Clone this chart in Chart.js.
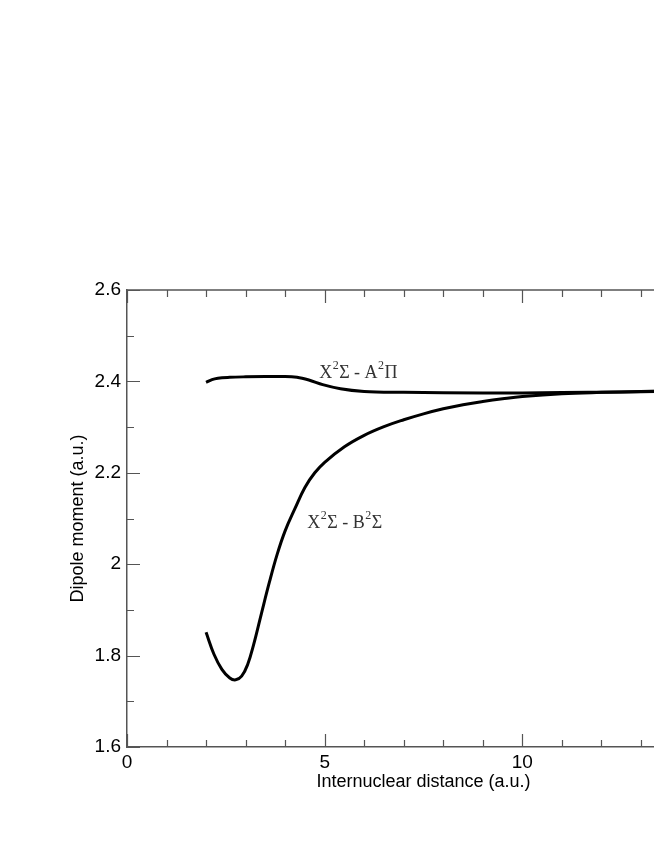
<!DOCTYPE html>
<html>
<head>
<meta charset="utf-8">
<script src="https://cdn.jsdelivr.net/npm/chart.js@4/dist/chart.umd.min.js"></script>
<style>
html,body{margin:0;padding:0;background:#fff;overflow:hidden;width:654px;height:846px;}
#wrap{position:absolute;left:0;top:0;width:760px;height:846px;}
</style>
</head>
<body>
<div id="wrap"><canvas id="c" width="760" height="846"></canvas></div>
<script>
// Data
const xaX = [2.0, 2.15, 2.3, 2.6, 3.0, 3.5, 4.0, 4.3, 4.6, 4.95, 5.4, 6.0, 7.0, 8.0, 9.0, 10.0, 11.0, 12.0, 13.0, 14.0, 15.0];
const xaY = [2.398, 2.404, 2.407, 2.409, 2.410, 2.4105, 2.4105, 2.409, 2.403, 2.393, 2.384, 2.378, 2.376, 2.375, 2.3745, 2.3748, 2.3755, 2.3765, 2.3775, 2.3785, 2.379];
const xbX = [2.0, 2.2, 2.4, 2.6, 2.75, 2.9, 3.05, 3.2, 3.4, 3.6, 3.8, 4.0, 4.25, 4.5, 4.75, 5.0, 5.5, 6.0, 6.5, 7.0, 7.5, 8.0, 8.5, 9.0, 9.5, 10.0, 11.0, 12.0, 13.0, 14.0, 15.0];
const xbY = [1.851, 1.803, 1.770, 1.751, 1.747, 1.755, 1.780, 1.823, 1.892, 1.960, 2.022, 2.073, 2.122, 2.168, 2.200, 2.223, 2.257, 2.282, 2.301, 2.316, 2.329, 2.340, 2.349, 2.356, 2.362, 2.367, 2.373, 2.376, 2.378, 2.380, 2.381];
const xRange = [0, 15];
const yRange = [1.6, 2.6];
const xTitle = 'Internuclear distance (a.u.)';
const yTitle = 'Dipole moment (a.u.)';
const labelA = {x: 4.86, y: 2.407, parts: ['X', '2', 'Σ - A', '2', 'Π']};
const labelB = {x: 4.56, y: 2.080, parts: ['X', '2', 'Σ - B', '2', 'Σ']};

const pts = (xs, ys) => xs.map((x, i) => ({x: x, y: ys[i]}));

const AXIS = '#555';
const innerTicks = {
  id: 'innerTicks',
  afterDraw(chart) {
    const {ctx, chartArea: a} = chart;
    const xs = chart.scales.x, ys = chart.scales.y;
    ctx.save();
    ctx.strokeStyle = AXIS;
    ctx.lineWidth = 1.5;
    ctx.beginPath();
    ctx.moveTo(a.left, a.top); ctx.lineTo(a.right, a.top); ctx.lineTo(a.right, a.bottom);
    ctx.stroke();
    ctx.lineWidth = 1.2;
    xs.ticks.forEach(t => {
      const p = Math.round(xs.getPixelForValue(t.value)) + 0.5;
      const major = Math.abs(t.value % 5) < 1e-6;
      const L = major ? 13 : 7;
      ctx.beginPath();
      ctx.moveTo(p, a.bottom); ctx.lineTo(p, a.bottom - L);
      ctx.moveTo(p, a.top); ctx.lineTo(p, a.top + L);
      ctx.stroke();
    });
    ys.ticks.forEach(t => {
      const p = Math.round(ys.getPixelForValue(t.value)) + 0.5;
      const major = Math.round(t.value * 10) % 2 === 0;
      const L = major ? 13 : 7;
      ctx.beginPath();
      ctx.moveTo(a.left, p); ctx.lineTo(a.left + L, p);
      ctx.moveTo(a.right, p); ctx.lineTo(a.right - L, p);
      ctx.stroke();
    });
    // annotations
    ctx.fillStyle = '#333';
    ctx.textBaseline = 'alphabetic';
    [labelA, labelB].forEach(lb => {
      let px = xs.getPixelForValue(lb.x);
      const py = ys.getPixelForValue(lb.y);
      lb.parts.forEach((s, i) => {
        const sup = i % 2 === 1;
        ctx.font = (sup ? '12px' : '18px') + ' "Liberation Serif", "Times New Roman", serif';
        ctx.fillText(s, px, sup ? py - 9 : py);
        px += ctx.measureText(s).width + 0.5;
      });
    });
    ctx.restore();
  }
};

new Chart(document.getElementById('c'), {
  type: 'line',
  data: {
    datasets: [
      {data: pts(xaX, xaY), borderColor: '#000', borderWidth: 3, pointRadius: 0, cubicInterpolationMode: 'monotone', fill: false},
      {data: pts(xbX, xbY), borderColor: '#000', borderWidth: 3, pointRadius: 0, tension: 0.4, fill: false}
    ]
  },
  options: {
    responsive: false,
    animation: false,
    events: [],
    layout: {padding: {top: 290, left: 0, right: 40, bottom: 39}},
    plugins: {legend: {display: false}, tooltip: {enabled: false}},
    scales: {
      x: {
        type: 'linear', min: xRange[0], max: xRange[1],
        grid: {display: false, drawTicks: false},
        border: {display: true, color: AXIS, width: 1.5},
        ticks: {
          stepSize: 1, autoSkip: false, maxRotation: 0, padding: 4,
          color: '#000', font: {family: '"Liberation Sans", Arial, sans-serif', size: 19},
          callback: v => (Math.abs(v % 5) < 1e-6 ? String(v) : '')
        },
        title: {display: true, text: xTitle, color: '#000', padding: {top: 0, bottom: 14},
          font: {family: '"Liberation Sans", Arial, sans-serif', size: 18}},
        afterFit: s => { s.height = 60; }
      },
      y: {
        type: 'linear', min: yRange[0], max: yRange[1],
        grid: {display: false, drawTicks: false},
        border: {display: true, color: AXIS, width: 1.5},
        ticks: {
          stepSize: 0.1, autoSkip: false, padding: 6,
          color: '#000', font: {family: '"Liberation Sans", Arial, sans-serif', size: 19},
          callback: v => (Math.round(v * 10) % 2 === 0 ? String(Math.round(v * 10) / 10) : '')
        },
        title: {display: true, text: yTitle, color: '#000', padding: {top: 67, bottom: 0},
          font: {family: '"Liberation Sans", Arial, sans-serif', size: 18}},
        afterFit: s => { s.width = 127; }
      }
    }
  },
  plugins: [innerTicks]
});
</script>
</body>
</html>
